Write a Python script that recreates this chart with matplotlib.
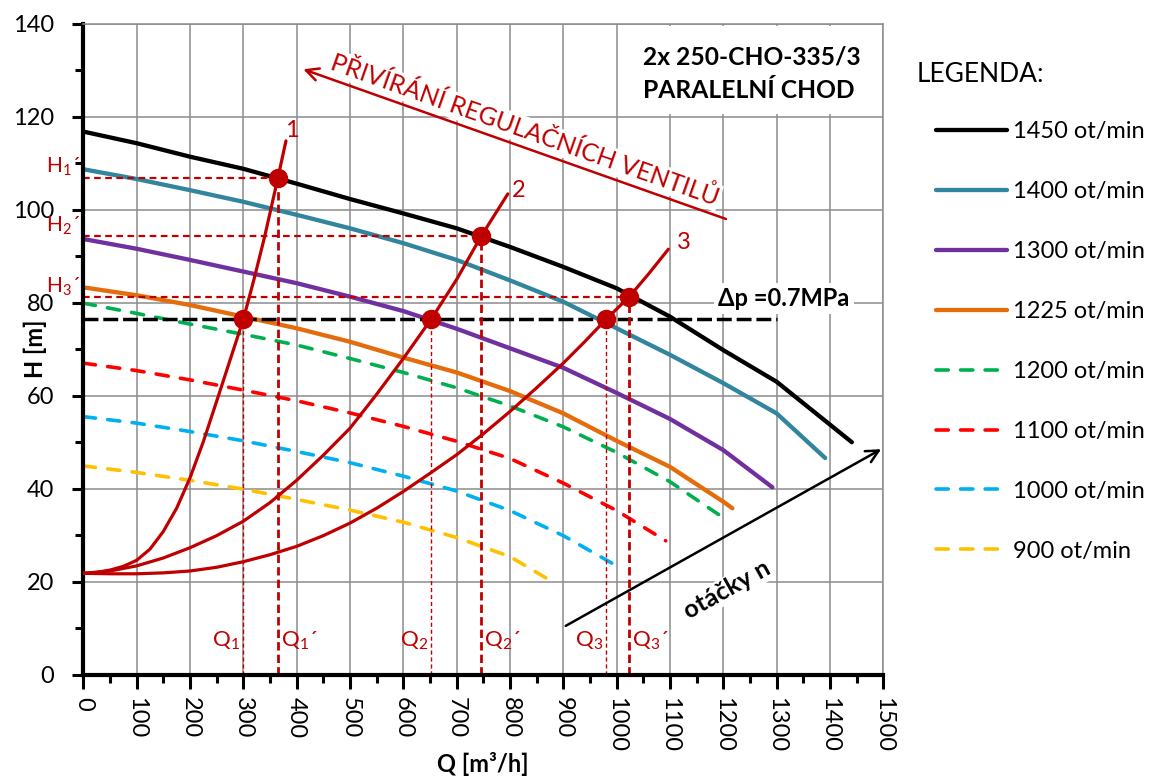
import numpy as np
import matplotlib.pyplot as plt
from matplotlib.patches import Rectangle

plt.rcParams['font.family'] = ['Lato', 'DejaVu Sans']
plt.rcParams['mathtext.default'] = 'regular'

# pump curves (Q [m3/h], H [m])
q_1450 = [0, 100, 200, 300, 400, 500, 600, 700, 800, 900, 1000, 1100, 1200, 1300, 1441]
h_1450 = [116.8, 114.3, 111.4, 108.8, 105.6, 102.3, 99.2, 96.0, 92.0, 87.7, 83.1, 77.0, 69.8, 63.0, 50.0]
q_1400 = [0, 100, 200, 300, 400, 500, 600, 700, 800, 900, 1000, 1100, 1200, 1300, 1391]
h_1400 = [108.7, 106.6, 104.2, 101.7, 98.9, 96.0, 92.8, 89.2, 84.8, 80.2, 74.5, 68.8, 62.7, 56.2, 46.6]
q_1300 = [0, 100, 200, 300, 400, 500, 600, 700, 800, 900, 1000, 1100, 1200, 1292]
h_1300 = [93.7, 91.6, 89.2, 86.7, 84.2, 81.3, 78.2, 74.4, 70.2, 66.0, 60.6, 55.0, 48.3, 40.3]
q_1225 = [0, 100, 200, 300, 400, 500, 600, 700, 800, 900, 1000, 1100, 1200, 1217]
h_1225 = [83.3, 81.6, 79.5, 77.0, 74.5, 71.6, 68.2, 65.0, 61.0, 56.2, 50.3, 44.7, 37.2, 35.8]
q_1200 = [0, 100, 200, 300, 400, 500, 600, 700, 800, 900, 1000, 1100, 1193]
h_1200 = [79.9, 77.7, 75.4, 73.2, 70.9, 68.0, 65.0, 61.7, 57.8, 53.3, 47.8, 41.5, 34.3]
q_1100 = [0, 100, 200, 300, 400, 500, 600, 700, 800, 900, 1000, 1092]
h_1100 = [67.0, 65.4, 63.4, 61.2, 58.9, 56.3, 53.4, 50.2, 46.5, 41.2, 35.3, 28.8]
q_1000 = [0, 100, 200, 300, 400, 500, 600, 700, 800, 900, 994]
h_1000 = [55.5, 54.1, 52.3, 50.3, 48.0, 45.6, 42.7, 39.5, 35.3, 29.9, 23.8]
q_900 = [0, 100, 200, 300, 400, 500, 600, 700, 800, 869]
h_900 = [44.9, 43.5, 41.8, 39.9, 37.7, 35.4, 32.8, 29.5, 25.4, 20.7]

speed_labels = ['1450 ot/min', '1400 ot/min', '1300 ot/min', '1225 ot/min',
                '1200 ot/min', '1100 ot/min', '1000 ot/min', '900 ot/min']

# system curves 1, 2, 3
q_sys1 = [0, 25, 50, 75, 100, 125, 150, 175, 200, 225, 250, 275, 300, 320, 340, 365, 380]
h_sys1 = [21.8, 22.0, 22.5, 23.3, 24.6, 27.0, 30.8, 35.8, 42.3, 50.1, 58.8, 67.6, 76.4,
          85.0, 94.2, 106.9, 114.8]
q_sys2 = [0, 50, 100, 150, 200, 250, 300, 350, 400, 450, 500, 550, 600, 652, 700, 746, 796]
h_sys2 = [21.8, 22.3, 23.4, 25.1, 27.3, 29.9, 33.0, 37.0, 41.8, 47.2, 53.0, 60.3, 68.0,
          76.4, 85.0, 94.3, 103.4]
q_sys3 = [0, 50, 100, 150, 200, 250, 300, 350, 400, 450, 500, 550, 600, 650, 700, 750,
          800, 850, 900, 940, 980, 1023, 1060, 1097]
h_sys3 = [21.8, 21.7, 21.7, 21.9, 22.3, 23.1, 24.3, 25.8, 27.6, 29.9, 32.6, 35.8, 39.4,
          43.3, 47.3, 51.8, 56.6, 61.7, 67.0, 71.6, 76.4, 81.2, 86.2, 91.5]

# operating points
dp_head = 76.4
dp_line_q = [0, 1300]
q_low = [300, 652, 980]
q_up = [365, 746, 1023]
h_up = [106.9, 94.3, 81.2]
q_low_labels = ['Q$_1$', 'Q$_2$', 'Q$_3$']
q_up_labels = ['Q$_1$´', 'Q$_2$´', 'Q$_3$´']
h_up_labels = ['H$_1$´', 'H$_2$´', 'H$_3$´']
sys_labels = ['1', '2', '3']
sys_label_q = [392, 817, 1126]
sys_label_h = [117.1, 104.2, 93.0]

RED = '#C00000'

fig = plt.figure(figsize=(11.5, 7.8), dpi=100)
ax = fig.add_axes([83.3 / 1150, 1 - 674.7 / 780, 800 / 1150, 651 / 780])
ax.set_xlim(0, 1500)
ax.set_ylim(0, 140)

solid = [(q_1450, h_1450, 'black'), (q_1400, h_1400, '#31859C'),
         (q_1300, h_1300, '#7030A0'), (q_1225, h_1225, '#E46C0A')]
dashed = [(q_1200, h_1200, '#00B050'), (q_1100, h_1100, '#FF0000'),
          (q_1000, h_1000, '#00B0F0'), (q_900, h_900, '#FFC000')]

handles = []
for (q, h, c), lab in zip(solid, speed_labels[:4]):
    ln, = ax.plot(q, h, color=c, lw=3.1, solid_capstyle='round', solid_joinstyle='round',
                  label=lab, zorder=2)
    handles.append(ln)
for (q, h, c), lab in zip(dashed, speed_labels[4:]):
    ln, = ax.plot(q, h, color=c, lw=2.6, dashes=(3.4, 3.4), dash_capstyle='round',
                  label=lab, zorder=2)
    handles.append(ln)

# delta p line
ax.plot(dp_line_q, [dp_head, dp_head], color='black', lw=2.5, dashes=(4.3, 1.4), zorder=2)

# guide lines
for q, h in zip(q_up, h_up):
    ax.plot([0, q], [h, h], color=RED, lw=1.6, dashes=(3, 2), zorder=2)
    ax.plot([q, q], [0, h], color=RED, lw=2.0, dashes=(3, 1.5), zorder=2)
for q in q_low:
    ax.plot([q, q], [0, dp_head], color=RED, lw=1.0, dashes=(3, 2), zorder=2)

# system curves
for q, h in [(q_sys1, h_sys1), (q_sys2, h_sys2), (q_sys3, h_sys3)]:
    ax.plot(q, h, color=RED, lw=2.3, solid_capstyle='round', solid_joinstyle='round', zorder=3)

ax.plot(q_low, [dp_head] * 3, 'o', ms=13, color=RED, zorder=5)
ax.plot(q_up, h_up, 'o', ms=13, color=RED, zorder=5)

for lab, q, h in zip(sys_labels, sys_label_q, sys_label_h):
    ax.text(q, h, lab, color=RED, fontsize=17, ha='center', va='center')
for lab, q in zip(q_low_labels, q_low):
    ax.text(q - 6, 6, lab, color=RED, fontsize=16, ha='right', va='baseline')
for lab, q in zip(q_up_labels, q_up):
    ax.text(q + 6, 6, lab, color=RED, fontsize=16, ha='left', va='baseline')
for lab, h in zip(h_up_labels, h_up):
    ax.text(-6, h + 1.0, lab, color=RED, fontsize=15, ha='right', va='baseline',
            clip_on=False)

# title box
ax.add_patch(Rectangle((1003, 120.5), 494, 19.0, fc='white', ec='none', zorder=1))
ax.text(1049, 132.8, '2x 250-CHO-335/3', fontsize=17.7, fontweight='bold', va='center')
ax.text(1049, 125.6, 'PARALELNÍ CHOD', fontsize=17.7, fontweight='bold', va='center')

ax.text(1314, 80.9, 'Δp =0.7MPa', fontsize=17, fontweight='bold', ha='center', va='center',
        bbox=dict(fc='white', ec='none', pad=3), zorder=1.5)


def screen_angle(p0, p1):
    a = ax.transData.transform(p0)
    b = ax.transData.transform(p1)
    return np.degrees(np.arctan2(b[1] - a[1], b[0] - a[0]))


# valve closing arrow
tail, head = (1205, 98.0), (412.5, 130.2)
ax.annotate('', xy=head, xytext=tail, zorder=4,
            arrowprops=dict(arrowstyle='->,head_length=0.9,head_width=0.45', color=RED, lw=1.8,
                            shrinkA=0, shrinkB=0))
ax.text(828, 117.1, 'PŘIVÍRÁNÍ REGULAČNÍCH VENTILŮ', color=RED, fontsize=18,
        rotation=screen_angle(head, tail), rotation_mode='anchor', ha='center',
        va='center', bbox=dict(fc='white', ec='none', pad=1), zorder=1.5)

# speed arrow
tail2, head2 = (904.5, 10.5), (1496, 48.5)
ax.annotate('', xy=head2, xytext=tail2, zorder=4, annotation_clip=False,
            arrowprops=dict(arrowstyle='->,head_length=0.9,head_width=0.45', color='black', lw=1.8,
                            shrinkA=0, shrinkB=0))
ax.text(1206, 18.2, 'otáčky n', color='black', fontsize=18, fontweight='bold',
        rotation=screen_angle(tail2, head2), rotation_mode='anchor', ha='center', va='center',
        bbox=dict(fc='white', ec='none', pad=1), zorder=1.5)

# axes
ax.set_xticks(np.arange(0, 1501, 100))
ax.set_xticks(np.arange(50, 1500, 100), minor=True)
ax.set_yticks(np.arange(0, 141, 20))
ax.set_yticks(np.arange(10, 140, 20), minor=True)
ax.grid(True, which='major', color='#8c8c8c', lw=1.1)
ax.set_axisbelow(True)
ax.tick_params(which='both', direction='out', width=2.2, labelsize=17)
ax.tick_params(axis='x', which='major', length=10, pad=6, labelrotation=-90)
ax.tick_params(axis='x', which='minor', length=6)
ax.tick_params(axis='y', which='major', length=8, pad=13)
ax.tick_params(axis='y', which='minor', length=6)
for s in ['left', 'bottom']:
    ax.spines[s].set_linewidth(3)
for s in ['top', 'right']:
    ax.spines[s].set_color('#8c8c8c')
    ax.spines[s].set_linewidth(1.1)

ax.set_xlabel('Q [m³/h]', fontsize=17, fontweight='bold')
ax.xaxis.set_label_coords(0.5, -0.118)
ax.set_ylabel('H [m]', fontsize=17, fontweight='bold')
ax.yaxis.set_label_coords(-0.045, 0.5)

fig.text(917 / 1150, 1 - 75 / 780, 'LEGENDA:', fontsize=19, va='center', ha='left')
ax.legend(handles=handles, loc='upper left', bbox_to_anchor=(936 / 1150, 1 - 121 / 780),
          bbox_transform=fig.transFigure, frameon=False, fontsize=17, handlelength=3.0,
          handletextpad=0.25, labelspacing=1.65, borderpad=0, borderaxespad=0)

fig.savefig('out.png', dpi=100)
